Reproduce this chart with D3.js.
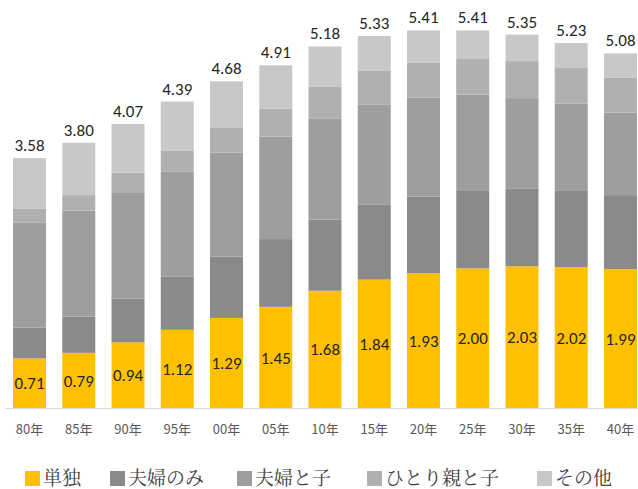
<!DOCTYPE html>
<html>
<head>
<meta charset="utf-8">
<script src="https://cdn.jsdelivr.net/npm/d3@7"></script>
<style>
  body { margin: 0; background: #fff; }
  svg { display: block; }
</style>
</head>
<body>
<script>
const width = 638, height = 489;

// categories and series
const years = ["80年","85年","90年","95年","00年","05年","10年","15年","20年","25年","30年","35年","40年"];
const single       = [0.71,0.79,0.94,1.12,1.29,1.45,1.68,1.84,1.93,2.00,2.03,2.02,1.99];
const coupleOnly   = [0.44,0.52,0.63,0.76,0.88,0.97,1.02,1.07,1.10,1.12,1.11,1.10,1.06];
const coupleChild  = [1.51,1.52,1.51,1.51,1.49,1.47,1.45,1.44,1.42,1.37,1.30,1.24,1.18];
const singleParent = [0.20,0.22,0.29,0.30,0.36,0.40,0.45,0.48,0.50,0.51,0.53,0.51,0.50];
const other        = [0.72,0.75,0.70,0.70,0.66,0.62,0.58,0.50,0.46,0.41,0.38,0.36,0.35];
const totals       = [3.58,3.80,4.07,4.39,4.68,4.91,5.18,5.33,5.41,5.41,5.35,5.23,5.08];

const seriesNames = ["単独","夫婦のみ","夫婦と子","ひとり親と子","その他"];
const colors = ["#FFC000","#8A8A8A","#9E9E9E","#B0B0B0","#C8C8C8"];

const rows = years.map((y, i) => ({
  year: y,
  "単独": single[i],
  "夫婦のみ": coupleOnly[i],
  "夫婦と子": coupleChild[i],
  "ひとり親と子": singleParent[i],
  "その他": other[i],
  total: totals[i]
}));

const svg = d3.select("body").append("svg")
  .attr("width", width)
  .attr("height", height);

const x = d3.scaleBand()
  .domain(years)
  .range([4.9, 645.1])
  .paddingInner(0.33)
  .paddingOuter(0.165);

const y = d3.scaleLinear()
  .domain([0, 6])
  .range([408, 408 - 6 * 69.8]);

const color = d3.scaleOrdinal().domain(seriesNames).range(colors);

const stacked = d3.stack().keys(seriesNames)(rows);

// bars
svg.append("g")
  .selectAll("g")
  .data(stacked)
  .enter().append("g")
  .attr("fill", d => color(d.key))
  .selectAll("rect")
  .data(d => d)
  .enter().append("rect")
  .attr("x", d => x(d.data.year))
  .attr("y", d => y(d[1]))
  .attr("width", x.bandwidth())
  .attr("height", d => y(d[0]) - y(d[1]));

// x axis
const axis = svg.append("g")
  .attr("transform", `translate(0,${y(0)})`)
  .call(d3.axisBottom(x).tickSize(0).tickPadding(17));

axis.select(".domain")
  .attr("d", "M5,0.5H638")
  .attr("stroke", "#D9D9D9")
  .attr("stroke-width", 1);

axis.selectAll("text")
  .attr("fill", "#595959")
  .style("font-family", "'Noto Sans CJK JP', sans-serif")
  .style("font-size", "13px");

// labels inside the 単独 segment
svg.append("g")
  .selectAll("text")
  .data(stacked[0])
  .enter().append("text")
  .attr("x", d => x(d.data.year) + x.bandwidth() / 2)
  .attr("y", d => (y(d[0]) + y(d[1])) / 2)
  .attr("dy", "0.36em")
  .attr("text-anchor", "middle")
  .attr("fill", "#262626")
  .style("font-family", "Carlito, Lato, sans-serif")
  .style("font-size", "17px")
  .text(d => d.data["単独"].toFixed(2));

// totals above bars
svg.append("g")
  .selectAll("text")
  .data(rows)
  .enter().append("text")
  .attr("x", d => x(d.year) + x.bandwidth() / 2)
  .attr("y", d => y(d.total) - 7)
  .attr("text-anchor", "middle")
  .attr("fill", "#262626")
  .style("font-family", "Carlito, Lato, sans-serif")
  .style("font-size", "17px")
  .text(d => d.total.toFixed(2));

// legend
const legendX = [25, 110, 237, 367, 537];
const legend = svg.append("g")
  .selectAll("g")
  .data(seriesNames)
  .enter().append("g")
  .attr("transform", (d, i) => `translate(${legendX[i]},471)`);

legend.append("rect")
  .attr("width", 15)
  .attr("height", 15)
  .attr("fill", d => color(d));

legend.append("text")
  .attr("x", 18)
  .attr("y", 7)
  .attr("dy", "0.36em")
  .attr("fill", "#404040")
  .style("font-family", "'Noto Serif CJK JP', 'Noto Sans CJK JP', serif")
  .style("font-size", "19px")
  .text(d => d);
</script>
</body>
</html>
